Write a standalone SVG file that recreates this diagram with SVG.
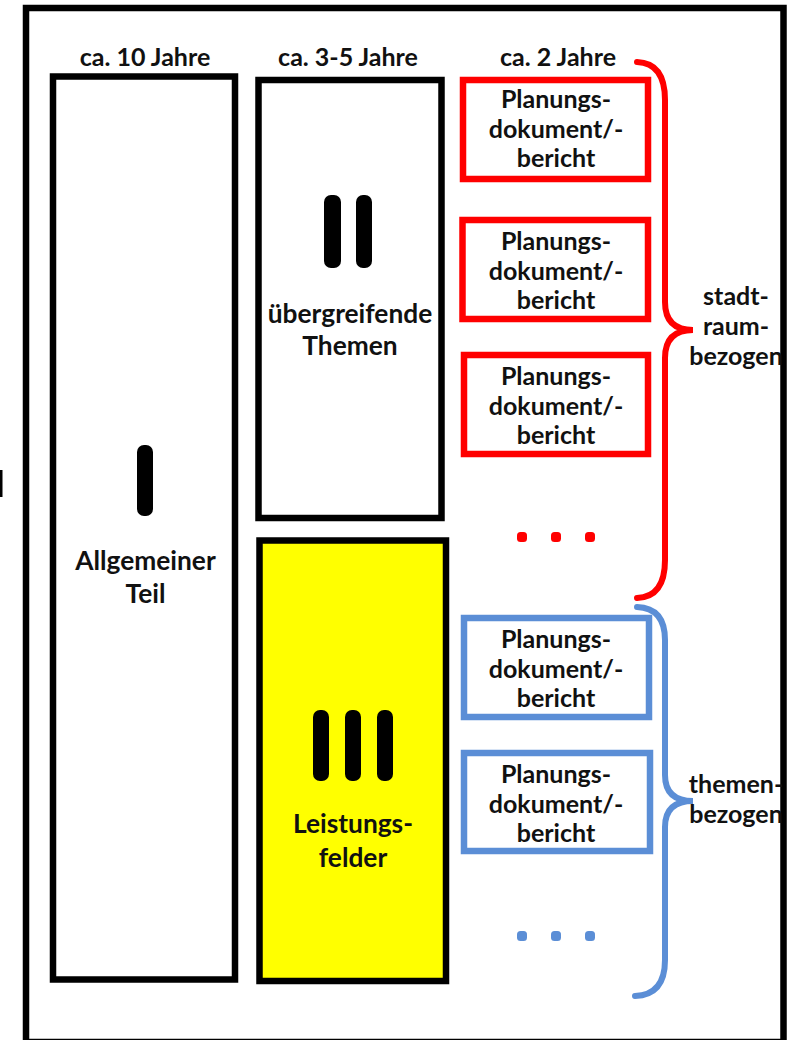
<svg xmlns="http://www.w3.org/2000/svg" width="791" height="1040" viewBox="0 0 791 1040">
<style>
text{font-family:Lato,"Open Sans","Liberation Sans",sans-serif;font-weight:700;font-size:25px;fill:#111;text-anchor:middle}
.big{font-size:26.3px}
.blk{fill:none;stroke:#000;stroke-width:6.5}
.red{fill:#fff;stroke:#ff0000;stroke-width:6.5}
.blue{fill:#fff;stroke:#5b8ed6;stroke-width:6.5}
.bar{fill:#000}
.brR{fill:none;stroke:#ff0000;stroke-width:6;stroke-linecap:round}
.brB{fill:none;stroke:#5b8ed6;stroke-width:6;stroke-linecap:round}
</style>
<rect width="791" height="1040" fill="#fff"/>
<rect x="0" y="470" width="2.5" height="27" fill="#000"/>
<g id="frame"><rect class="blk" x="26" y="8" width="757.5" height="1034"/></g>
<g id="headers">
<text x="145" y="66">ca. 10 Jahre</text>
<text x="348" y="66">ca. 3-5 Jahre</text>
<text x="558" y="66">ca. 2 Jahre</text>
</g>
<g id="teil1">
<rect class="blk" x="53" y="76.5" width="182" height="903"/>
<rect class="bar" x="137" y="445" width="16" height="71" rx="7"/>
<text class="big" x="145.5" y="570">Allgemeiner</text>
<text class="big" x="145.5" y="603">Teil</text>
</g>
<g id="teil2">
<rect class="blk" x="258.5" y="80" width="183" height="438"/>
<rect class="bar" x="324" y="195" width="17" height="73" rx="7"/>
<rect class="bar" x="356" y="195" width="16" height="73" rx="7"/>
<text class="big" x="350" y="323">übergreifende</text>
<text class="big" x="350" y="355">Themen</text>
</g>
<g id="teil3">
<rect class="blk" x="259.5" y="540.5" width="186.5" height="440.5" style="fill:#ffff00"/>
<rect class="bar" x="313" y="710" width="16" height="71" rx="7"/>
<rect class="bar" x="345" y="710" width="16" height="71" rx="7"/>
<rect class="bar" x="377" y="710" width="16" height="71" rx="7"/>
<text class="big" x="353" y="833">Leistungs-</text>
<text class="big" x="353" y="867">felder</text>
</g>
<g id="doc1">
<rect class="red" x="463" y="80" width="185" height="99"/>
<text x="556" y="108">Planungs-</text><text x="556" y="138">dokument/-</text><text x="556" y="167">bericht</text>
</g>
<g id="doc2">
<rect class="red" x="462.5" y="220" width="185.5" height="99"/>
<text x="556" y="250">Planungs-</text><text x="556" y="280">dokument/-</text><text x="556" y="309">bericht</text>
</g>
<g id="doc3">
<rect class="red" x="464" y="355" width="184" height="99"/>
<text x="556" y="385">Planungs-</text><text x="556" y="415">dokument/-</text><text x="556" y="444">bericht</text>
</g>
<g id="dotsR" fill="#ff0000">
<rect x="517" y="532" width="10" height="10" rx="3.5"/>
<rect x="551" y="532" width="10" height="10" rx="3.5"/>
<rect x="585" y="532" width="10" height="10" rx="3.5"/>
</g>
<g id="doc4">
<rect class="blue" x="464" y="618" width="185" height="99"/>
<text x="556" y="648">Planungs-</text><text x="556" y="678">dokument/-</text><text x="556" y="707">bericht</text>
</g>
<g id="doc5">
<rect class="blue" x="464" y="753" width="186" height="98"/>
<text x="556" y="783">Planungs-</text><text x="556" y="813">dokument/-</text><text x="556" y="842">bericht</text>
</g>
<g id="dotsB" fill="#5b8ed6">
<rect x="517" y="931" width="10" height="10" rx="3.5"/>
<rect x="551" y="931" width="10" height="10" rx="3.5"/>
<rect x="585" y="931" width="10" height="10" rx="3.5"/>
</g>
<g id="connectors">
<path class="brR" d="M637,62 Q665,63 665,100 L665,302 Q665,330 693,330 Q665,330 665,358 L665,560 Q665,597 637,598"/>
<path class="brB" d="M637,607 Q665,608 665,640 L665,775 Q665,801 693,801 Q665,801 665,827 L665,960 Q665,995 635,996"/>
</g>
<g id="labelR">
<text x="736" y="305">stadt-</text>
<text x="736" y="335">raum-</text>
<text x="736" y="365">bezogen</text>
</g>
<g id="labelB">
<text x="736" y="793">themen-</text>
<text x="736" y="823">bezogen</text>
</g>
</svg>
